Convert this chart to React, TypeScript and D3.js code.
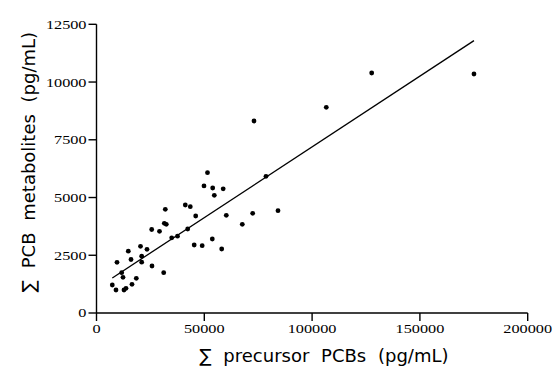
import React from "react";
import * as d3 from "d3";

const precursorPCBs = [
  7330, 9040, 12750, 13680, 16460, 18460, 11690, 12290, 9510, 16000,
  20960, 20960, 14750, 20410, 23420, 25740, 31170, 25600, 29220, 34880,
  37570, 31450, 32370, 31910, 42300, 45310, 49020, 53710, 58070, 41190,
  43500, 46010, 51480, 49860, 53890, 58760, 54640, 60200, 67620, 72440,
  78610, 84180, 73050, 106580, 127640, 175080,
];
const pcbMetabolites = [
  1212, 996, 996, 1070, 1243, 1503, 1745, 1546, 2195, 2317,
  2200, 2459, 2676, 2888, 2758, 2035, 1745, 3616, 3538, 3256,
  3325, 3884, 3841, 4490, 3637, 2944, 2914, 3204, 2771, 4676,
  4603, 4200, 6075, 5500, 5413, 5378, 5096, 4230, 3841, 4317,
  5919, 4430, 8314, 8907, 10392, 10349,
];
const xTicks = [0, 50000, 100000, 150000, 200000];
const yTicks = [0, 2500, 5000, 7500, 10000, 12500];
const fitSlope = 0.06126;
const fitIntercept = 1068;

const W = 554;
const H = 377;

export default function App() {
  const x = d3.scaleLinear().domain([0, 200000]).range([96.5, 527.7]);
  const y = d3.scaleLinear().domain([0, 12500]).range([313, 24.3]);
  const pts = precursorPCBs.map((v, i) => [v, pcbMetabolites[i]] as [number, number]);
  const xMin = d3.min(precursorPCBs) as number;
  const xMax = d3.max(precursorPCBs) as number;
  const fit = d3
    .line<number>()
    .x((d) => x(d))
    .y((d) => y(fitIntercept + fitSlope * d));
  const tickFont = "'Liberation Serif', 'Times New Roman', serif";
  const titleFont = "'DejaVu Sans', 'Liberation Sans', sans-serif";
  const x0 = x(0);
  const y0 = y(0);
  return (
    <svg
      width={W}
      height={H}
      style={{ position: "absolute", left: 0, top: 0, background: "#fff" }}
    >
      <rect width={W} height={H} fill="#fff" />
      {/* axes */}
      <line x1={x0} x2={x(200000)} y1={y0} y2={y0} stroke="#000" strokeWidth={1.4} />
      <line x1={x0} x2={x0} y1={y0} y2={y(12500)} stroke="#000" strokeWidth={1.4} />
      {xTicks.map((t) => (
        <g key={"xt" + t}>
          <line x1={x(t)} x2={x(t)} y1={y0} y2={y0 + 8} stroke="#000" strokeWidth={1.4} />
          <text
            x={x(t)}
            y={y0 + 20}
            textAnchor="middle"
            fontFamily={tickFont}
            fontSize={13}
            transform={`translate(${x(t)},0) scale(1.25,1) translate(${-x(t)},0)`}
          >
            {t}
          </text>
        </g>
      ))}
      {yTicks.map((t) => (
        <g key={"yt" + t}>
          <line x1={x0 - 8} x2={x0} y1={y(t)} y2={y(t)} stroke="#000" strokeWidth={1.4} />
          <text
            x={x0 - 10}
            y={y(t) + 4.5}
            textAnchor="end"
            fontFamily={tickFont}
            fontSize={13}
            transform={`translate(${x0 - 10},0) scale(1.25,1) translate(${-(x0 - 10)},0)`}
          >
            {t}
          </text>
        </g>
      ))}
      {/* fit line */}
      <path d={fit([xMin, xMax]) || ""} fill="none" stroke="#000" strokeWidth={1.3} />
      {/* points */}
      {pts.map((p, i) => (
        <circle key={i} cx={x(p[0])} cy={y(p[1])} r={2.4} fill="#000" />
      ))}
      {/* titles */}
      <text
        x={324}
        y={362}
        textAnchor="middle"
        fontFamily={titleFont}
        fontSize={18}
        wordSpacing={6}
      >
        ∑ precursor PCBs (pg/mL)
      </text>
      <text
        transform={`translate(35,162) rotate(-90)`}
        textAnchor="middle"
        fontFamily={titleFont}
        fontSize={18}
        wordSpacing={6}
      >
        ∑ PCB metabolites (pg/mL)
      </text>
    </svg>
  );
}
